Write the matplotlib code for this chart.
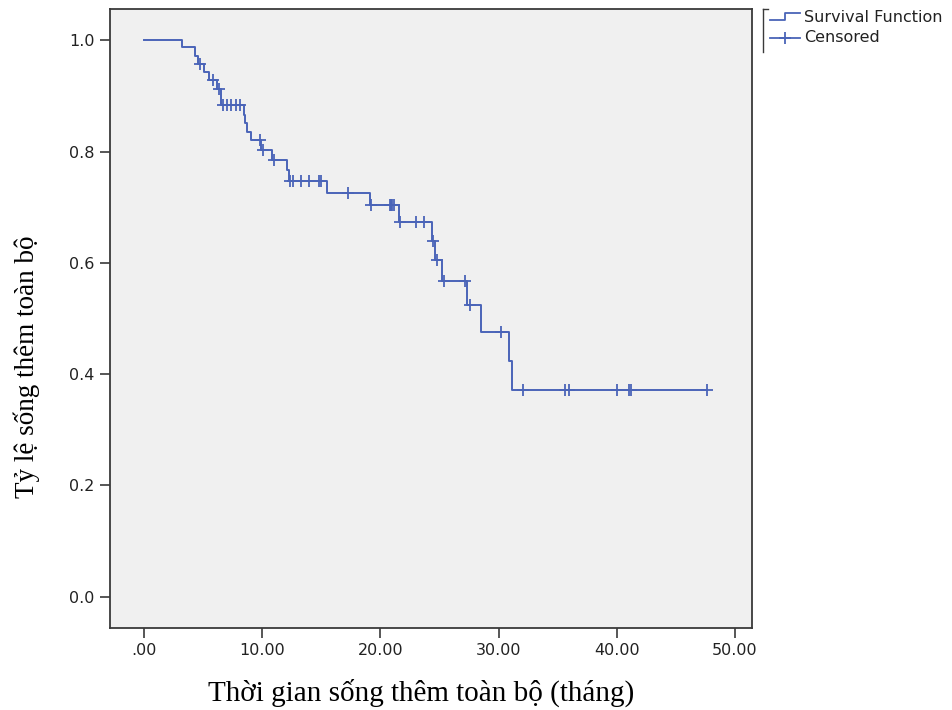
import numpy as np
import matplotlib
matplotlib.use('Agg')
from matplotlib import pyplot as plt
from matplotlib.lines import Line2D

# Kaplan-Meier steps: event times [months] and survival after each drop
step_time = [0.0, 3.25, 4.37, 4.6, 5.1, 5.5, 6.2, 6.5, 8.45, 8.6, 8.75, 9.1, 9.9,
             10.85, 12.1, 12.3, 15.5, 19.1, 21.6, 24.4, 24.65, 25.2, 27.3, 28.5,
             30.9, 31.1]
step_surv = [1.0, 0.988, 0.972, 0.958, 0.943, 0.928, 0.913, 0.884, 0.866, 0.852,
             0.835, 0.820, 0.803, 0.785, 0.767, 0.747, 0.726, 0.704, 0.674, 0.640,
             0.605, 0.568, 0.524, 0.476, 0.424, 0.372]
# censored observations [months]
cens_time = [4.75, 5.85, 6.4, 6.7, 7.0, 7.4, 7.8, 8.1, 9.8, 10.05, 11.0, 12.4, 12.6,
             13.3, 14.0, 14.8, 15.0, 17.3, 19.2, 20.8, 20.9, 21.0, 21.2, 21.7, 23.0,
             23.7, 24.5, 24.8, 25.35, 27.2, 27.6, 30.2, 32.1, 35.6, 36.0, 40.0, 41.0,
             41.2, 47.6]

xticks = [0, 10, 20, 30, 40, 50]
xticklabels = ['.00', '10.00', '20.00', '30.00', '40.00', '50.00']
yticks = [0.0, 0.2, 0.4, 0.6, 0.8, 1.0]

line_color = '#4a64b8'
frame_color = '#3a3a3a'
sans = 'DejaVu Sans'
serif = 'Liberation Serif'

step_time = np.array(step_time)
step_surv = np.array(step_surv)
cens_time = np.array(cens_time)
# survival value at each censored time (post step)
idx = np.searchsorted(step_time, cens_time, side='right') - 1
cens_surv = step_surv[idx]

# extend curve to last observation
t_plot = np.append(step_time, cens_time.max())
s_plot = np.append(step_surv, step_surv[-1])

fig = plt.figure(figsize=(9.52, 7.10), dpi=100)
ax = fig.add_axes([110/952, 1-628/710, (752-110)/952, (628-9)/710])
ax.set_facecolor('#f0f0f0')

ax.step(t_plot, s_plot, where='post', color=line_color, linewidth=1.4)
ax.plot(cens_time, cens_surv, linestyle='', marker='+', color=line_color,
        markersize=9, markeredgewidth=1.3)

ax.set_xlim(-2.86, 51.44)
ax.set_ylim(-0.056, 1.056)
ax.set_xticks(xticks)
ax.set_xticklabels(xticklabels, family=sans)
ax.set_yticks(yticks)
ax.set_yticklabels([f'{v:.1f}' for v in yticks], family=sans)

for sp in ax.spines.values():
    sp.set_color(frame_color)
    sp.set_linewidth(1.3)
ax.tick_params(axis='both', direction='out', length=7, width=1.2, color=frame_color,
               labelsize=11.5, labelcolor='#222222')
ax.tick_params(axis='x', pad=4)
ax.tick_params(axis='y', pad=4)

ax.set_xlabel('Thời gian sống thêm toàn bộ (tháng)', family=serif, fontsize=21)
ax.set_ylabel('Tỷ lệ sống thêm toàn bộ', family=serif, fontsize=19.5)
ax.xaxis.set_label_coords(0.484, -0.082)
ax.yaxis.set_label_coords(-0.109, 0.4216)

# legend on the right, outside the plot
W, H = 952., 710.
def fx(px): return px / W
def fy(py): return 1 - py / H

fig.add_artist(Line2D([fx(763), fx(763)], [fy(9), fy(52)], color=frame_color, linewidth=1.0))
fig.add_artist(Line2D([fx(763), fx(768)], [fy(9), fy(9)], color=frame_color, linewidth=1.0))
fig.add_artist(Line2D([fx(770), fx(785), fx(785), fx(800)],
                      [fy(20), fy(20), fy(13), fy(13)], color=line_color, linewidth=1.3))
fig.add_artist(Line2D([fx(770), fx(800)], [fy(38), fy(38)], color=line_color, linewidth=1.3))
fig.add_artist(Line2D([fx(785)], [fy(38)], color=line_color, marker='+', markersize=9,
                      markeredgewidth=1.3, linestyle=''))
fig.text(fx(804), fy(17), 'Survival Function', fontsize=11.5, family=sans,
         va='center', ha='left', color='#222222')
fig.text(fx(804), fy(38), 'Censored', fontsize=11.5, family=sans,
         va='center', ha='left', color='#222222')

fig.savefig('out.png', dpi=100)
